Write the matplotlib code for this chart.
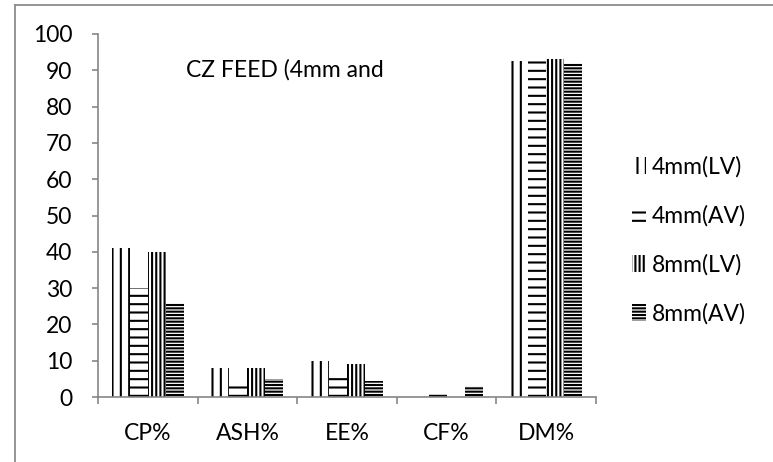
import matplotlib
matplotlib.use("Agg")
import matplotlib.pyplot as plt
from matplotlib.patches import Patch
from matplotlib.lines import Line2D
import numpy as np

categories = ["CP%", "ASH%", "EE%", "CF%", "DM%"]
series_names = ["4mm(LV)", "4mm(AV)", "8mm(LV)", "8mm(AV)"]
v_4mm_lv = [41, 8, 10, 0, 92.5]
v_4mm_av = [30, 4.5, 6.5, 1.5, 93]
v_8mm_lv = [40, 8, 9, 0, 93]
v_8mm_av = [26, 5, 4.5, 3, 92]
y_ticks = [0, 10, 20, 30, 40, 50, 60, 70, 80, 90, 100]
title_text = "CZ FEED (4mm and"

series = [v_4mm_lv, v_4mm_av, v_8mm_lv, v_8mm_av]
hatches = ["||", "--", "||||", "-----"]

FS = 16.5
plt.rcParams["font.family"] = ["Lato", "DejaVu Sans"]
plt.rcParams["hatch.linewidth"] = 1.5

W, H = 773, 462
fig = plt.figure(figsize=(W / 100, H / 100), dpi=100)
ax = fig.add_axes([98 / W, 1 - 397 / H, (596 - 98) / W, (397 - 34) / H])

x = np.arange(len(categories))
bw = 0.181
for i, (vals, hat) in enumerate(zip(series, hatches)):
    ax.bar(x + (i - 1.5) * bw, vals, width=bw, facecolor="white",
           edgecolor="black", linewidth=0, hatch=hat, label=series_names[i])

ax.set_xlim(-0.5, len(categories) - 0.5)
ax.set_ylim(0, 100)
ax.set_yticks(y_ticks)
ax.set_yticklabels([str(t) for t in y_ticks])
ax.set_xticks(x)
ax.set_xticklabels(categories)
ax.set_xticks(np.arange(-0.5, len(categories)), minor=True)
ax.tick_params(axis="x", which="major", length=0, pad=19, labelsize=FS)
ax.tick_params(axis="x", which="minor", length=5, width=1.2, color="#868686", direction="out")
ax.tick_params(axis="y", length=4.5, width=1.2, color="#868686", direction="out", pad=14, labelsize=FS)

for s in ["top", "right"]:
    ax.spines[s].set_visible(False)
for s in ["left", "bottom"]:
    ax.spines[s].set_color("#868686")
    ax.spines[s].set_linewidth(1.2)

fig.text(186 / W, 1 - 70 / H, title_text, ha="left", va="center", fontsize=FS)

handles = [Patch(facecolor="white", edgecolor="black", linewidth=0, hatch=h) for h in hatches]
fig.legend(handles, series_names, loc="upper left", bbox_to_anchor=(632 / W, 1 - 156 / H),
           frameon=False, fontsize=FS, handlelength=0.6, handleheight=0.8,
           handletextpad=0.25, labelspacing=1.2, borderaxespad=0, borderpad=0)

# outer chart frame (extends past the image at right and bottom)
fig.add_artist(Line2D([15 / W, 1.0], [1 - 5 / H, 1 - 5 / H], transform=fig.transFigure,
                      color="#8c8c8c", linewidth=1.3))
fig.add_artist(Line2D([15 / W, 15 / W], [0.0, 1 - 5 / H], transform=fig.transFigure,
                      color="#8c8c8c", linewidth=1.3))

fig.savefig("out.png", dpi=100)
